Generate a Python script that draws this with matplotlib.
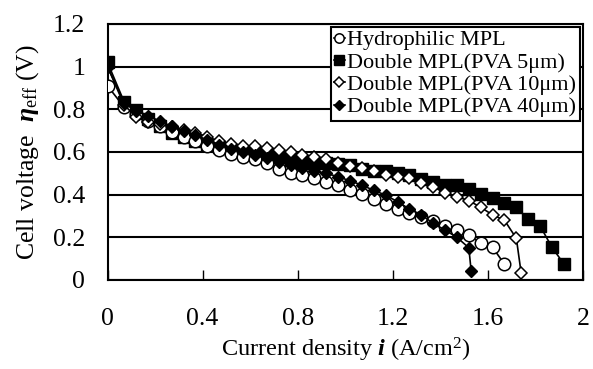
import matplotlib.pyplot as plt

plt.rcParams['font.family'] = ['Liberation Serif', 'DejaVu Serif']
plt.rcParams['mathtext.fontset'] = 'custom'
plt.rcParams['mathtext.rm'] = 'Liberation Serif'
plt.rcParams['mathtext.it'] = 'Liberation Serif:italic:bold'
plt.rcParams['mathtext.bf'] = 'Liberation Serif:bold'

# current density (A/cm2) and cell voltage (V) for each MPL type
i_hydro = [0, 0.07, 0.12, 0.17, 0.22, 0.27, 0.32, 0.37, 0.42, 0.47, 0.52, 0.57,
           0.62, 0.67, 0.72, 0.77, 0.82, 0.87, 0.92, 0.97, 1.02, 1.07, 1.12, 1.17,
           1.22, 1.27, 1.32, 1.37, 1.42, 1.47, 1.52, 1.57, 1.62, 1.67]
v_hydro = [0.91, 0.81, 0.78, 0.745, 0.72, 0.695, 0.672, 0.65, 0.63, 0.61, 0.59, 0.578,
           0.566, 0.547, 0.52, 0.50, 0.49, 0.48, 0.46, 0.445, 0.422, 0.405, 0.378, 0.355,
           0.335, 0.315, 0.295, 0.275, 0.255, 0.235, 0.211, 0.173, 0.153, 0.074]

i_pva5 = [0, 0.07, 0.12, 0.17, 0.22, 0.27, 0.32, 0.37, 0.42, 0.47, 0.52, 0.57,
          0.62, 0.67, 0.72, 0.77, 0.82, 0.87, 0.92, 0.97, 1.02, 1.07, 1.12, 1.17,
          1.22, 1.27, 1.32, 1.37, 1.42, 1.47, 1.52, 1.57, 1.62, 1.67, 1.72, 1.77,
          1.82, 1.87, 1.92]
v_pva5 = [1.02, 0.835, 0.795, 0.755, 0.72, 0.69, 0.672, 0.65, 0.633, 0.622, 0.61, 0.60,
          0.595, 0.59, 0.575, 0.563, 0.555, 0.548, 0.547, 0.544, 0.539, 0.52, 0.512, 0.51,
          0.503, 0.492, 0.472, 0.461, 0.445, 0.445, 0.425, 0.405, 0.383, 0.362, 0.341, 0.284,
          0.253, 0.153, 0.075]

i_pva10 = [0, 0.07, 0.12, 0.17, 0.22, 0.27, 0.32, 0.37, 0.42, 0.47, 0.52, 0.57,
           0.62, 0.67, 0.72, 0.77, 0.82, 0.87, 0.92, 0.97, 1.02, 1.07, 1.12, 1.17,
           1.22, 1.27, 1.32, 1.37, 1.42, 1.47, 1.52, 1.57, 1.62, 1.67, 1.72, 1.74]
v_pva10 = [1.0, 0.82, 0.765, 0.74, 0.73, 0.715, 0.705, 0.69, 0.672, 0.65, 0.638, 0.63,
           0.628, 0.618, 0.61, 0.60, 0.586, 0.577, 0.566, 0.55, 0.535, 0.523, 0.512, 0.492,
           0.484, 0.477, 0.453, 0.435, 0.41, 0.39, 0.372, 0.341, 0.305, 0.28, 0.195, 0.034]

i_pva40 = [0, 0.07, 0.12, 0.17, 0.22, 0.27, 0.32, 0.37, 0.42, 0.47, 0.52, 0.57,
           0.62, 0.67, 0.72, 0.77, 0.82, 0.87, 0.92, 0.97, 1.02, 1.07, 1.12, 1.17,
           1.22, 1.27, 1.32, 1.37, 1.42, 1.47, 1.52, 1.53]
v_pva40 = [1.0, 0.83, 0.79, 0.77, 0.745, 0.72, 0.70, 0.68, 0.655, 0.635, 0.615, 0.60,
           0.585, 0.57, 0.555, 0.54, 0.525, 0.51, 0.50, 0.484, 0.465, 0.445, 0.42, 0.398,
           0.367, 0.333, 0.305, 0.266, 0.234, 0.20, 0.151, 0.04]

fig = plt.figure(figsize=(5.93, 3.69), dpi=100)
ax = fig.add_axes([0.1813, 0.2412, 0.8017, 0.6938])

ax.plot(i_hydro, v_hydro, '-o', color='black', lw=1.2, ms=9,
        mfc='white', mec='black', mew=1.1, label='Hydrophilic MPL', zorder=3)
ax.plot(i_pva5, v_pva5, '-s', color='black', lw=1.2, ms=9,
        mfc='black', mec='black', label='Double MPL(PVA 5\u03bcm)', zorder=2)
ax.plot(i_pva10, v_pva10, '-D', color='black', lw=1.2, ms=6.5,
        mfc='white', mec='black', mew=1.1, label='Double MPL(PVA 10\u03bcm)', zorder=4)
ax.plot(i_pva40, v_pva40, '-D', color='black', lw=1.2, ms=6.5,
        mfc='black', mec='black', label='Double MPL(PVA 40\u03bcm)', zorder=4)

ax.set_xlim(0, 2)
ax.set_ylim(0, 1.2)
ax.set_xticks([0, 0.4, 0.8, 1.2, 1.6, 2])
ax.set_xticklabels(['0', '0.4', '0.8', '1.2', '1.6', '2'])
ax.set_yticks([0, 0.2, 0.4, 0.6, 0.8, 1.0, 1.2])
ax.set_yticklabels(['0', '0.2', '0.4', '0.6', '0.8', '1', '1.2'])
ax.tick_params(axis='x', direction='in', length=7, width=1, pad=20, labelsize=18.5)
ax.tick_params(axis='y', length=0, pad=16, labelsize=18.5)
ax.yaxis.grid(True, color='black', lw=1.5)
ax.set_axisbelow(True)
for s in ax.spines.values():
    s.set_linewidth(1.5)

ax.set_xlabel('Current density $i$ (A/cm$^{2}$)', fontsize=17.5, labelpad=4)
ax.set_ylabel('Cell voltage  $\\eta_{\\rm eff}$ (V)', fontsize=18.5, labelpad=9)

leg = ax.legend(loc='upper right', bbox_to_anchor=(0.993, 0.99), fontsize=16,
                frameon=True, fancybox=False, framealpha=1, edgecolor='black',
                handlelength=0.5, handletextpad=0.1, borderpad=0.15,
                labelspacing=0.08, borderaxespad=0, markerscale=0.75)
leg.get_frame().set_linewidth(1.5)

fig.savefig('out.png', dpi=100)
